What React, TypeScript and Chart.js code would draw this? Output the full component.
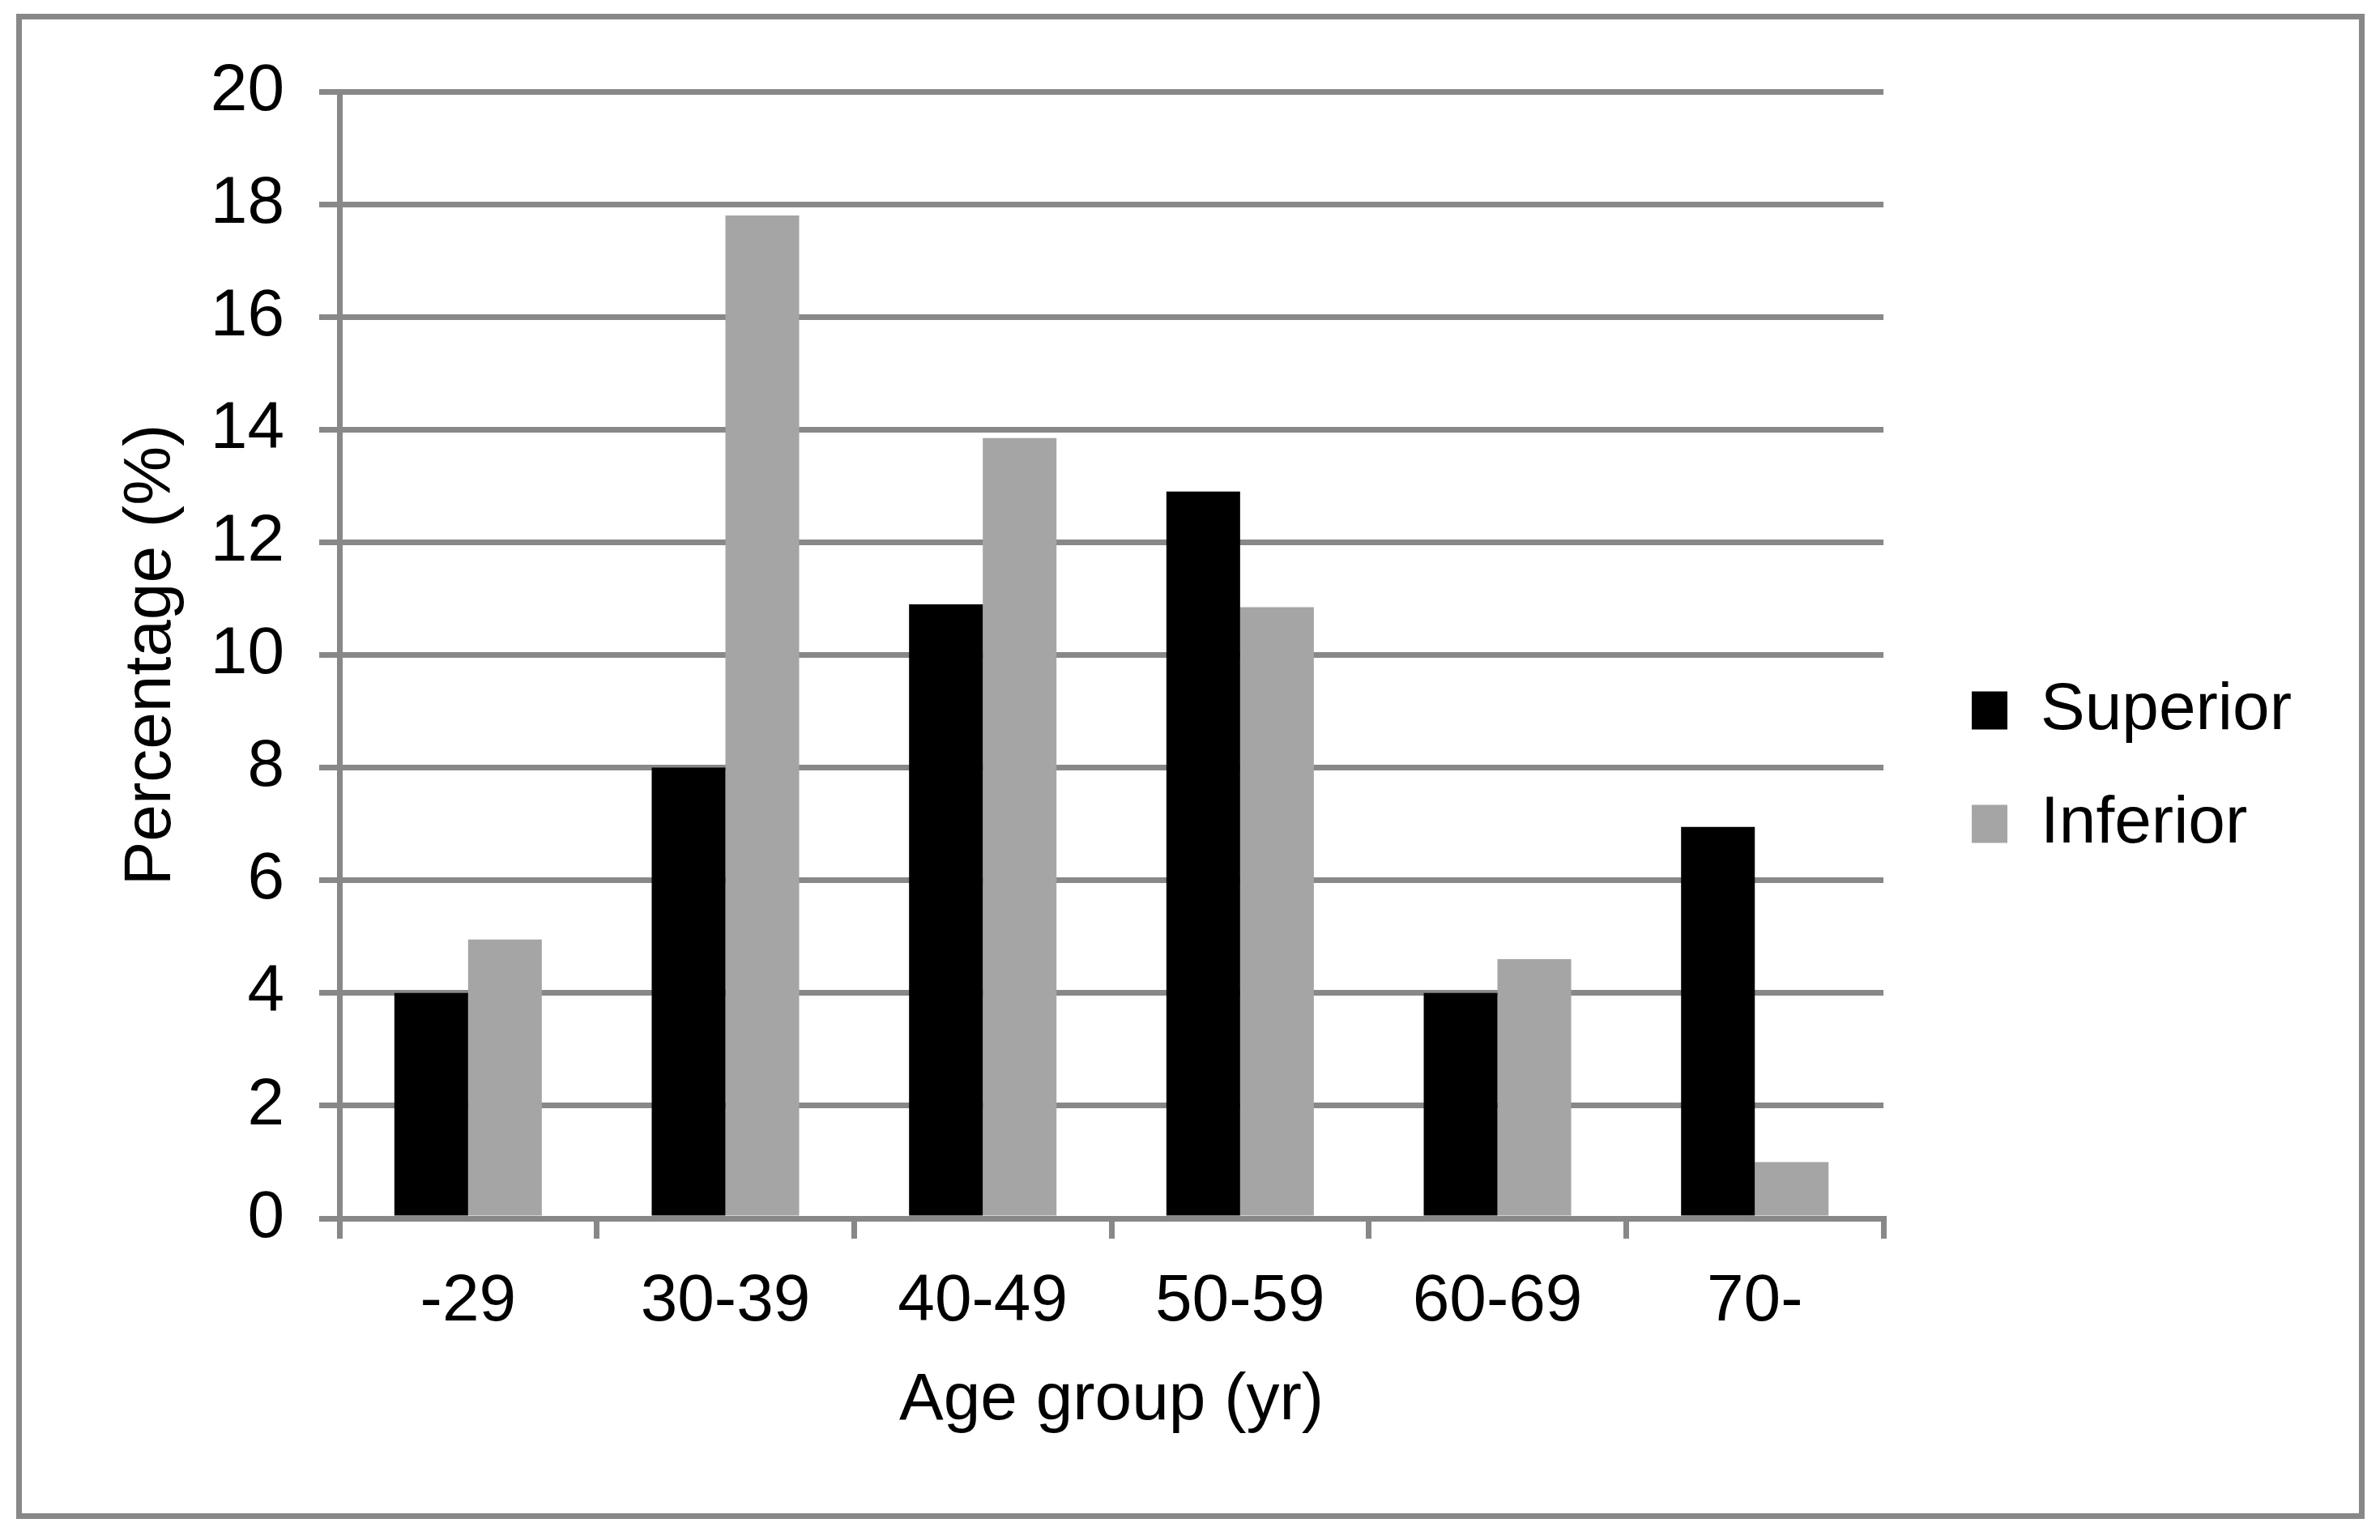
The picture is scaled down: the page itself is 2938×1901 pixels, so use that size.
import React, { useEffect, useRef } from 'react';
import { Chart, registerables } from 'chart.js';

Chart.register(...registerables);

const categories = ['-29', '30-39', '40-49', '50-59', '60-69', '70-'];
const superiorValues = [4.0, 8.0, 10.9, 12.9, 4.0, 6.95];
const inferiorValues = [4.95, 17.8, 13.85, 10.85, 4.6, 1.0];
const seriesNames = ['Superior', 'Inferior'];
const yMin = 0;
const yMax = 20;
const yStep = 2;
const xTitle = 'Age group (yr)';
const yTitle = 'Percentage (%)';

const FONT = "'Liberation Sans', Arial, sans-serif";
const GRID = '#888888';

export default function App() {
  const ref = useRef<HTMLCanvasElement | null>(null);

  useEffect(() => {
    if (!ref.current) return;
    const chart = new Chart(ref.current, {
      type: 'bar',
      data: {
        labels: categories,
        datasets: [
          {
            label: seriesNames[0],
            data: superiorValues,
            backgroundColor: '#000000',
            borderWidth: 0,
            categoryPercentage: 0.573,
            barPercentage: 1,
          },
          {
            label: seriesNames[1],
            data: inferiorValues,
            backgroundColor: '#a5a5a5',
            borderWidth: 0,
            categoryPercentage: 0.573,
            barPercentage: 1,
          },
        ],
      },
      options: {
        responsive: false,
        animation: false,
        devicePixelRatio: 1,
        layout: { padding: { left: 0, top: 113, right: 99, bottom: 120 } },
        font: { family: FONT },
        color: '#000',
        plugins: {
          tooltip: { enabled: false },
          legend: {
            position: 'right',
            align: 'center',
            labels: {
              color: '#000',
              font: { family: FONT, size: 82 },
              boxWidth: 44,
              boxHeight: 47,
              padding: 58,
            },
          },
        },
        scales: {
          x: {
            position: 'bottom',
            offset: true,
            grid: {
              display: true,
              offset: true,
              drawOnChartArea: false,
              drawTicks: true,
              tickLength: 25,
              color: GRID,
              lineWidth: 7,
            },
            border: { display: true, color: GRID, width: 7 },
            ticks: {
              color: '#000',
              font: { family: FONT, size: 82 },
              padding: 29,
              maxRotation: 0,
            },
            title: {
              display: true,
              text: xTitle,
              color: '#000',
              font: { family: FONT, size: 82 },
              padding: { top: 0, bottom: 2 },
            },
            afterFit: (scale: any) => {
              scale.height = 277;
            },
          },
          y: {
            position: 'left',
            min: yMin,
            max: yMax,
            grid: {
              display: true,
              drawTicks: true,
              tickLength: 25,
              color: GRID,
              lineWidth: 7,
            },
            border: { display: true, color: GRID, width: 7 },
            ticks: {
              stepSize: yStep,
              color: '#000',
              font: { family: FONT, size: 82 },
              padding: 43,
            },
            title: {
              display: true,
              text: yTitle,
              color: '#000',
              font: { family: FONT, size: 82 },
              padding: { top: 138, bottom: 0 },
            },
            afterFit: (scale: any) => {
              scale.width = 419;
            },
          },
          gap: {
            position: 'right',
            display: true,
            grid: { display: false },
            border: { display: false },
            ticks: { display: false },
            title: { display: false },
            afterFit: (scale: any) => {
              scale.width = 51;
            },
          },
        },
      },
    } as any);
    return () => chart.destroy();
  }, []);

  return (
    <div
      style={{
        position: 'fixed',
        left: 0,
        top: 0,
        width: 2938,
        height: 1901,
        background: '#ffffff',
      }}
    >
      <canvas
        ref={ref}
        width={2938}
        height={1901}
        style={{ position: 'absolute', left: 0, top: 0, width: 2938, height: 1901 }}
      />
      <div
        style={{
          position: 'absolute',
          left: 20,
          top: 17,
          width: 2899,
          height: 1858,
          boxSizing: 'border-box',
          border: '7px solid #888888',
          pointerEvents: 'none',
        }}
      />
    </div>
  );
}
